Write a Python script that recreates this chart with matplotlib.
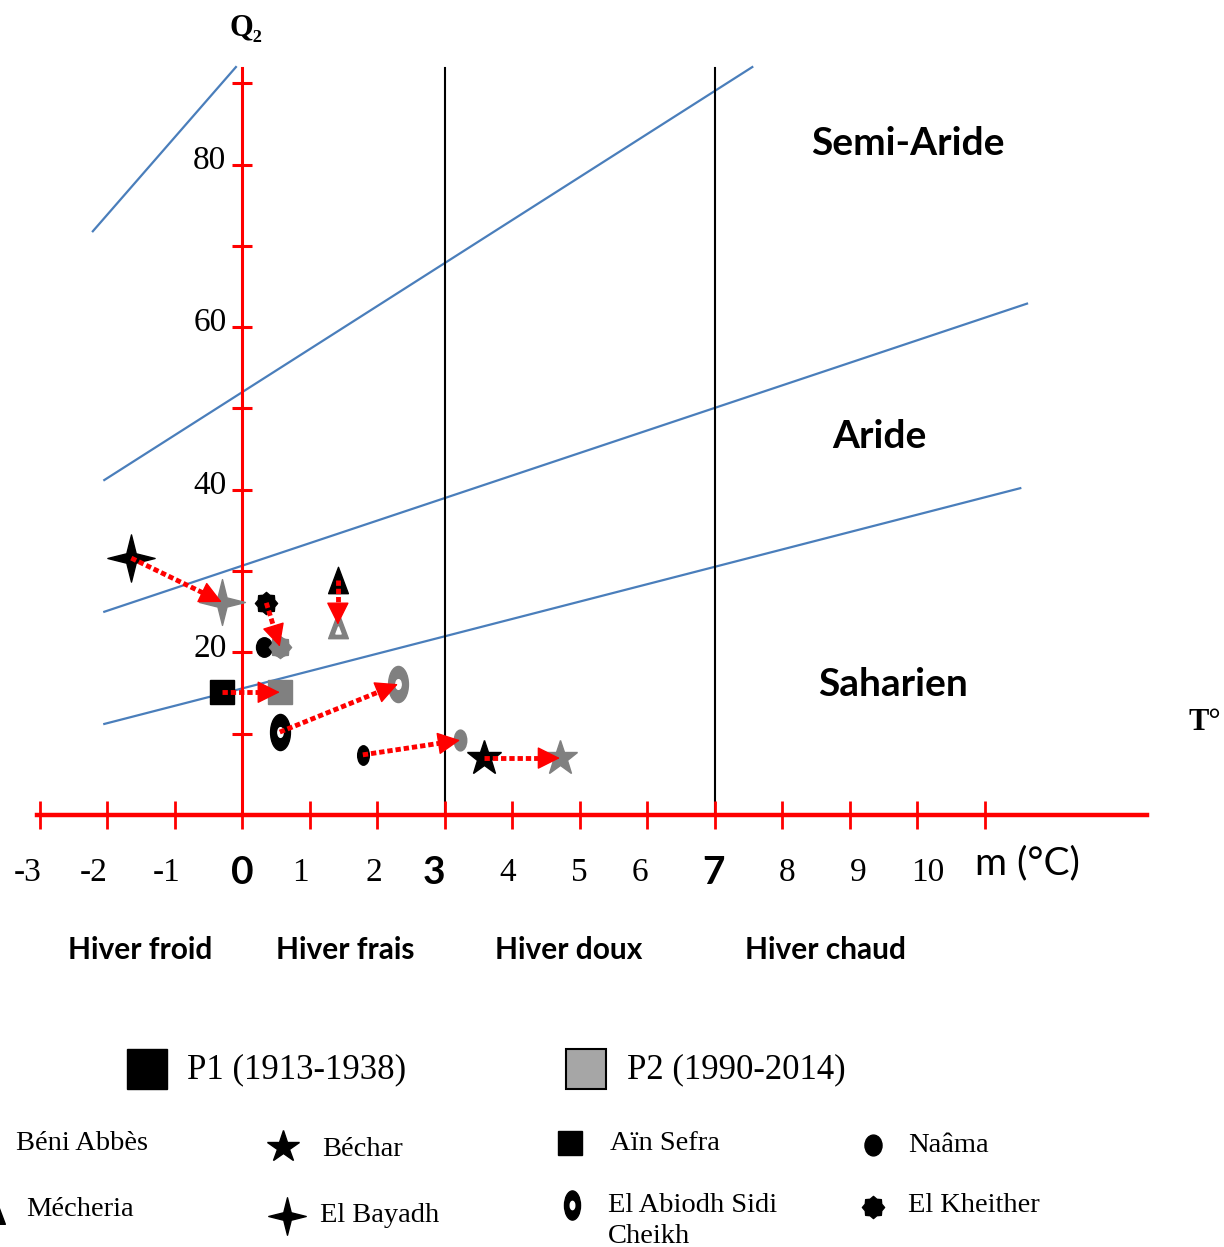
import numpy as np
import matplotlib
matplotlib.use('Agg')
import matplotlib.pyplot as plt
from matplotlib.path import Path
from matplotlib.transforms import Affine2D
from matplotlib.patches import Rectangle

# stations: m (°C) and Q2 for the two periods
stations = ['Béni Abbès', 'Béchar', 'Aïn Sefra', 'Naâma',
            'Mécheria', 'El Bayadh', 'El Abiodh Sidi\nCheikh', 'El Kheither']
m_p1 = [1.79, 3.59, -0.30, 0.33, 1.42, -1.64, 0.56, 0.36]
q2_p1 = [7.4, 7.0, 15.1, 20.7, 28.9, 31.6, 10.2, 26.1]
m_p2 = [3.23, 4.71, 0.56, 0.56, 1.42, -0.30, 2.31, 0.56]
q2_p2 = [9.2, 7.0, 15.1, 20.7, 23.4, 26.2, 16.1, 20.7]
has_arrow = [True, True, True, False, True, True, True, True]

# Emberger limits (start/end points of the blue lines)
lim_x0 = [-2.21, -2.04, -2.04, -2.04]
lim_y0 = [71.8, 41.2, 25.0, 11.2]
lim_x1 = [-0.09, 7.56, 11.63, 11.53]
lim_y1 = [92.0, 92.0, 62.9, 40.2]

x_ticks = list(range(-3, 12))
x_labels = ['-3', '-2', '-1', '0', '1', '2', '3', '4', '5', '6', '7', '8', '9', '10']
y_ticks = list(range(10, 100, 10))
y_labels = {20: '20', 40: '40', 60: '60', 80: '80'}
winter_limits = [3, 7]
winters = ['Hiver froid', 'Hiver frais', 'Hiver doux', 'Hiver chaud']
winter_x = [-1.51, 1.53, 4.84, 8.64]
zones = ['Semi-Aride', 'Aride', 'Saharien']
zone_pos = [(9.87, 82.6), (9.45, 46.6), (9.64, 16.1)]

# ---- marker shapes
ellipse = Affine2D().scale(0.6, 1).transform_path(Path.unit_circle())
naama_m = Affine2D().scale(0.82, 1).transform_path(Path.unit_circle())
ring_m = Affine2D().scale(0.55, 1).transform_path(Path.unit_circle())
tri_m = Path([(0, 1), (-0.75, -1), (0.75, -1), (0, 1)], closed=True)
four = Path([(0, 1), (0.2, 0.2), (1, 0), (0.2, -0.2), (0, -1),
             (-0.2, -0.2), (-1, 0), (-0.2, 0.2), (0, 1)], closed=True)
ang = np.linspace(0, 2 * np.pi, 17)
rad = np.where(np.arange(17) % 2 == 0, 1.0, 0.8)
gear = Path(np.column_stack([rad * np.sin(ang), rad * np.cos(ang)]), closed=True)

markers = [ellipse, '*', 's', naama_m, tri_m, four, ring_m, gear]
msizes = [14, 26, 17, 14, 19, 34, 26, 16]
msizes_p2 = [15, 26, 17, 14, 19, 33, 26, 16]

fig = plt.figure(figsize=(12.24, 12.47), dpi=100)
ax = fig.add_axes([0, 0, 1, 1])
sx, sy, x0, y0 = 67.5, 8.13, 242, 815
ax.set_xlim(-x0 / sx, (1224 - x0) / sx)
ax.set_ylim(-(1247 - y0) / sy, y0 / sy)
ax.axis('off')

# blue limit lines
for a, b, c, d in zip(lim_x0, lim_y0, lim_x1, lim_y1):
    ax.plot([a, c], [b, d], color='#4a7ebb', lw=1.6, zorder=2)

# winter limits
for w in winter_limits:
    ax.plot([w, w], [0, 91.9], color='black', lw=1.5, zorder=2)

# red axes
ax.plot([-3.04, 13.4], [0, 0], color='red', lw=3.2, zorder=3)
ax.plot([0, 0], [0, 91.9], color='red', lw=2.2, zorder=3)
ax.vlines(x_ticks, -1.75, 1.75, color='red', lw=2, zorder=3)
ax.hlines(y_ticks, -0.15, 0.15, color='red', lw=2.2, zorder=3)

serif = ['Liberation Serif', 'DejaVu Serif']
sans = ['Lato', 'DejaVu Sans']
for t, lab in y_labels.items():
    ax.text(-0.23, t + 0.5, lab, ha='right', va='center', fontsize=24, family=serif)

lab_shift = [-0.17, -0.19, -0.12, 0.0, -0.13, -0.04, -0.16, -0.06, 0.0, -0.1, -0.01, 0.07, 0.13, 0.16]
for t, lab, dx in zip(x_ticks, x_labels, lab_shift):
    if lab in ('0', '3', '7'):
        ax.text(t + dx, -7.1, lab, ha='center', va='center', fontsize=28,
                fontweight='bold', family=sans)
    else:
        ax.text(t + dx, -7.1, lab, ha='center', va='center', fontsize=24, family=serif)
ax.text(11.64, -5.9, 'm (°C)', ha='center', va='center', fontsize=28, family=sans)

for lab, x in zip(winters, winter_x):
    ax.text(x, -16.6, lab, ha='center', va='center', fontsize=21.5,
            fontweight='bold', family=sans)
for lab, (x, y) in zip(zones, zone_pos):
    ax.text(x, y, lab, ha='center', va='center', fontsize=28,
            fontweight='bold', family=sans)

ax.text(0.06, 96.8, 'Q₂', ha='center', va='center', fontsize=22,
        fontweight='bold', family=serif)
ax.text(14.27, 11.4, 'T°', ha='center', va='center', fontsize=22,
        fontweight='bold', family=serif)

# stations
for i in range(len(stations)):
    ax.plot(m_p2[i], q2_p2[i], marker=markers[i], ms=msizes_p2[i], color='#808080',
            mec='#808080', ls='none', zorder=4 if i != 3 else 3.5)
    ax.plot(m_p1[i], q2_p1[i], marker=markers[i], ms=msizes[i], color='black',
            ls='none', zorder=4)
# ring centres / triangle hole
ax.plot(m_p1[6], q2_p1[6], marker=ring_m, ms=7, color='white', ls='none', zorder=4.1)
ax.plot(m_p2[6], q2_p2[6], marker=ring_m, ms=7, color='white', ls='none', zorder=4.1)
ax.plot(m_p2[4], q2_p2[4] - 0.7, marker=tri_m, ms=5, color='white', ls='none', zorder=4.1)

# dotted red arrows P1 -> P2 (dotted shaft + solid head)
for i in range(len(stations)):
    if not has_arrow[i]:
        continue
    dpx = (m_p2[i] - m_p1[i]) * sx
    dpy = (q2_p2[i] - q2_p1[i]) * sy
    L = np.hypot(dpx, dpy)
    ux, uy = dpx / L, dpy / L
    # back off along the arrow direction (in pixels) for shaft end / head base
    xe, ye = m_p2[i] - ux * 8 / sx, q2_p2[i] - uy * 8 / sy
    xh, yh = m_p2[i] - ux * 20 / sx, q2_p2[i] - uy * 20 / sy
    ax.plot([m_p1[i], xe], [q2_p1[i], ye], color='red', lw=3.5,
            dashes=(1.1, 0.6), dash_capstyle='butt', zorder=5)
    ax.annotate('', xy=(m_p2[i], q2_p2[i]), xytext=(xh, yh),
                arrowprops=dict(arrowstyle='-|>,head_length=0.9,head_width=0.45',
                                color='red', lw=1, shrinkA=0, shrinkB=0,
                                mutation_scale=16),
                zorder=5)

# ---- legend (pixel coordinates)
lax = fig.add_axes([0, 0, 1, 1])
lax.set_xlim(0, 1224)
lax.set_ylim(1247, 0)
lax.axis('off')
lax.patch.set_visible(False)

lax.add_patch(Rectangle((127, 1049), 40, 40, facecolor='black', edgecolor='black'))
lax.add_patch(Rectangle((566, 1049), 40, 40, facecolor='#a6a6a6', edgecolor='black', lw=1.5))
lax.text(187, 1070, 'P1 (1913-1938)', ha='left', va='center', fontsize=25, family=serif)
lax.text(627, 1070, 'P2 (1990-2014)', ha='left', va='center', fontsize=25, family=serif)

leg_mx = [-14, 283, 570, 873, -4, 287, 572, 873]
leg_my = [1143, 1147, 1143, 1145, 1212, 1216, 1205, 1207]
leg_ms = [14, 24, 17, 15, 17, 27, 21, 16]
leg_tx = [16, 322, 610, 908, 26, 320, 608, 908]
leg_ty = [1143, 1150, 1143, 1146, 1210, 1215, 1221, 1205]
for i, name in enumerate(stations):
    lax.plot(leg_mx[i], leg_my[i], marker=markers[i], ms=leg_ms[i], color='black', ls='none')
    lax.text(leg_tx[i], leg_ty[i], name, ha='left', va='center', fontsize=20.5,
             family=serif, linespacing=1.3)
lax.plot(leg_mx[6], leg_my[6], marker=ring_m, ms=6, color='white', ls='none')

fig.savefig('out.png', dpi=100)
